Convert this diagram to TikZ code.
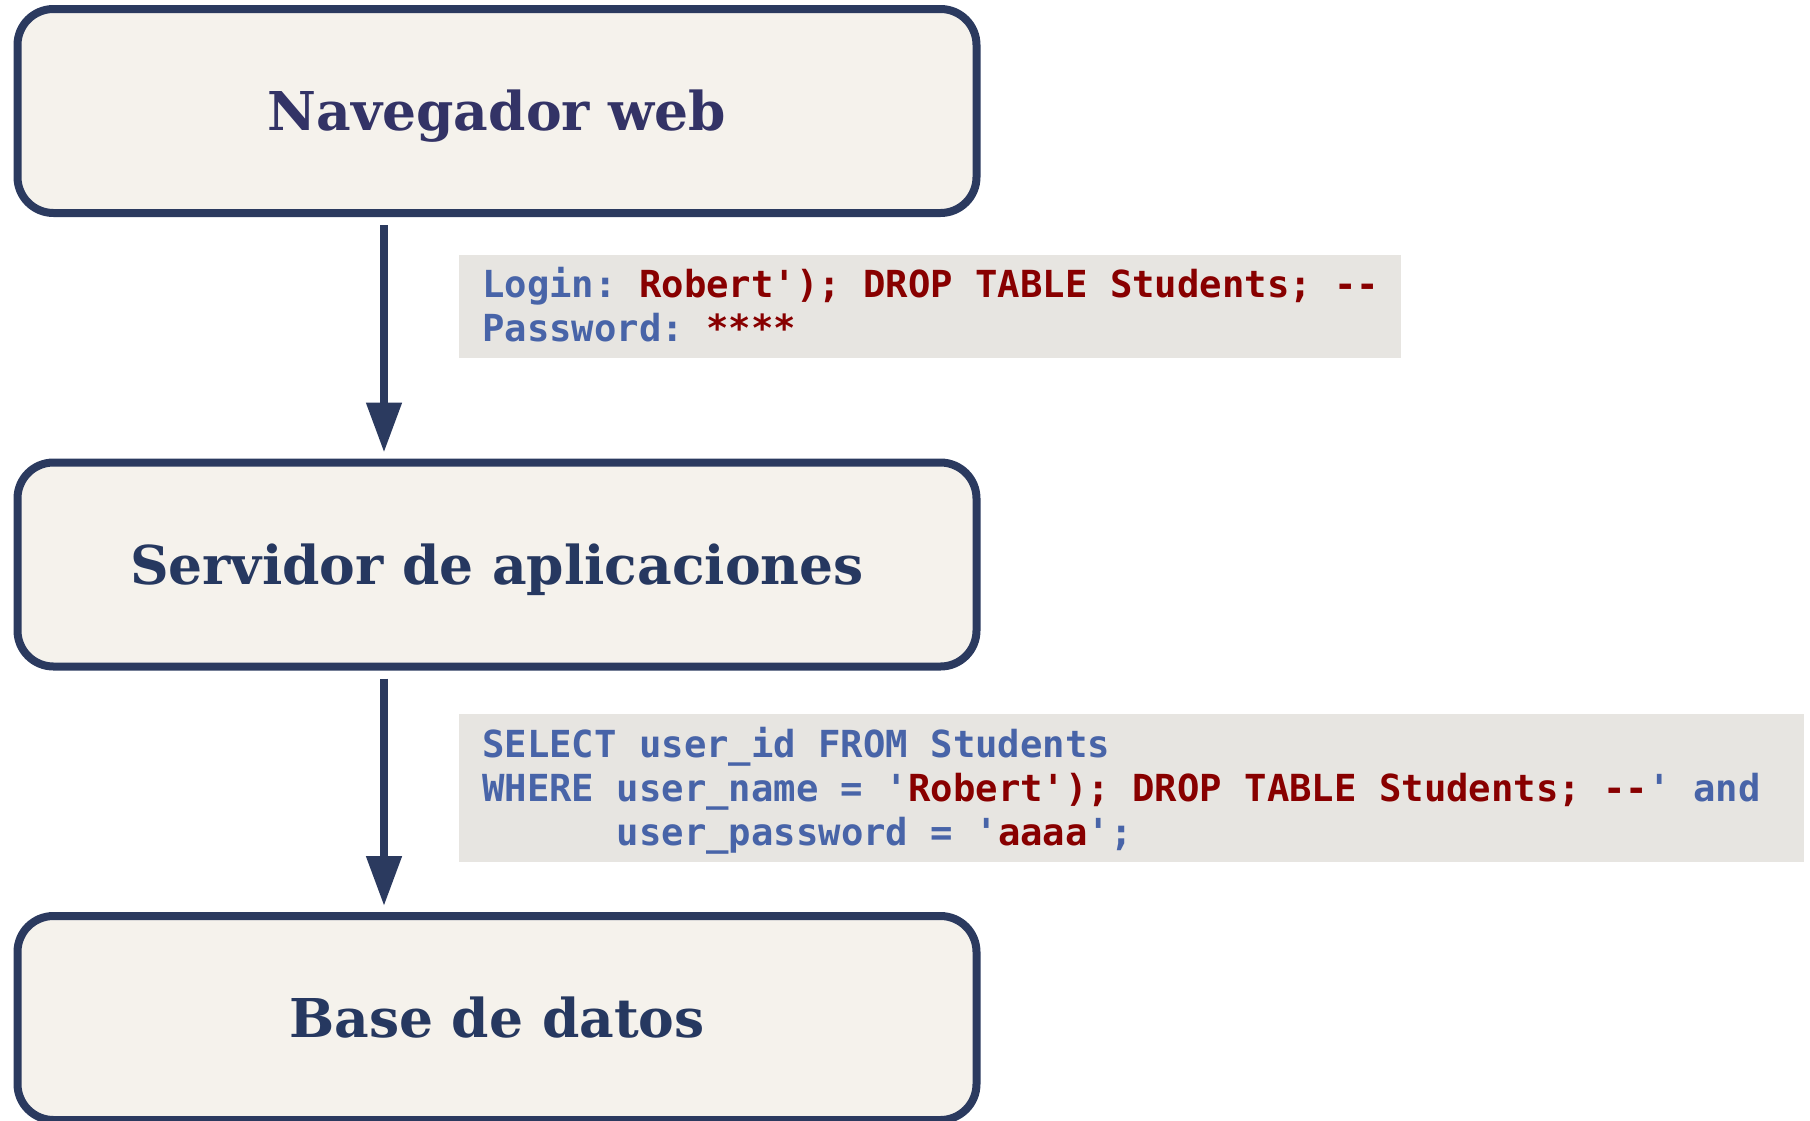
\documentclass[tikz,border=0pt]{standalone}
\usepackage{fontspec}
\usetikzlibrary{arrows.meta,calc}
\newfontfamily\boxfont{DejaVu Serif}
\newfontfamily\codefont{DejaVu Sans Mono}
\definecolor{boxfill}{HTML}{F5F2EC}
\definecolor{boxline}{HTML}{2B3A5F}
\definecolor{boxtext}{HTML}{263860}
\definecolor{browsertext}{HTML}{333366}
\definecolor{codebg}{HTML}{E7E5E1}
\definecolor{sqlblue}{HTML}{4864A8}
\definecolor{sqlred}{HTML}{880000}
\newcommand\kw[1]{\textcolor{sqlblue}{#1}}
\newcommand\lit[1]{\textcolor{sqlred}{#1}}
\frenchspacing
\tikzset{
  tier/.style={draw=boxline, line width=8pt, fill=boxfill, rounded corners=36pt,
    minimum width=959pt, minimum height=204pt, inner sep=0pt,
    text height=39pt, text depth=0pt,
    font=\boxfont\bfseries\fontsize{53.5}{60}\selectfont, text=boxtext},
  codeblock/.style={fill=codebg, draw=none, inner sep=0pt, anchor=north west},
  codeline/.style={anchor=base west, inner sep=0pt,
    font=\codefont\bfseries\fontsize{37.25}{44}\selectfont},
  flow/.style={draw=boxline, line width=8pt,
    -{Triangle[length=50pt,width=34pt]}, shorten <=8pt, shorten >=6pt},
}
\begin{document}
\begin{tikzpicture}[x=1pt,y=-1pt]
  \useasboundingbox (0,0) rectangle (1810,1120);

  % three tiers
  \node[tier, text=browsertext] (browser) at (497,111) {Navegador web};
  \node[tier] (server) at (497,564.5) {Servidor de aplicaciones};
  \node[tier] (db) at (497,1018) {Base de datos};

  % requests between tiers run down a common line left of centre
  \coordinate (rail) at (384,0);
  \draw[flow] (browser.south -| rail) -- (server.north -| rail);
  \draw[flow] (server.south -| rail) -- (db.north -| rail);

  % login form contents
  \node[codeblock, minimum width=942pt, minimum height=103pt] (form) at (459,255) {};
  \node[codeline] (l1) at ($(form.north west)+(23,42)$)
    {\kw{Login:} \lit{Robert'); DROP TABLE Students; --}};
  \node[codeline] (l2) at ($(l1.base west)+(0,44)$)
    {\kw{Password:} \lit{****}};

  % resulting SQL query
  \node[codeblock, minimum width=1345pt, minimum height=148pt] (query) at (459,714) {};
  \node[codeline] (q1) at ($(query.north west)+(23,43)$)
    {\kw{SELECT user\_id FROM Students}};
  \node[codeline] (q2) at ($(q1.base west)+(0,44)$)
    {\kw{WHERE user\_name = '}\lit{Robert'); DROP TABLE Students; --}\kw{' and}};
  \node[codeline] (q3) at ($(q2.base west)+(0,44)$)
    {\phantom{WHERE }\kw{user\_password = '}\lit{aaaa}\kw{';}};
\end{tikzpicture}
\end{document}
